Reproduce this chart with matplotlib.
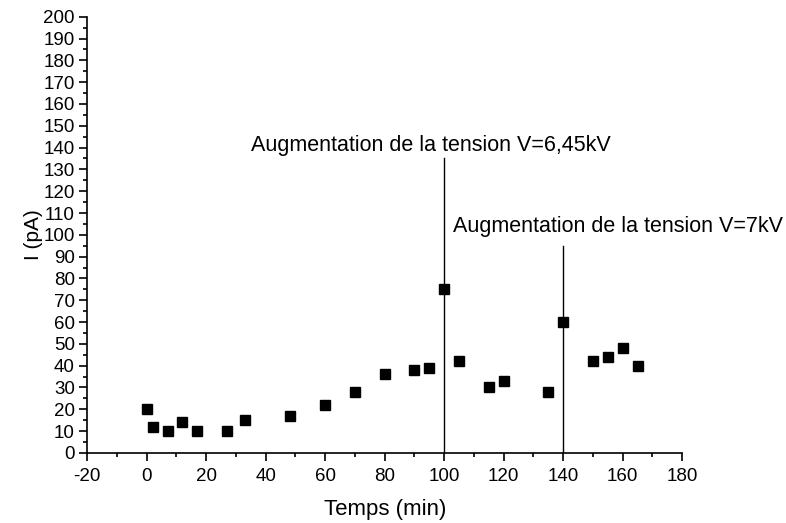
import matplotlib
matplotlib.use("Agg")
import matplotlib.pyplot as plt
from matplotlib.ticker import MultipleLocator

plt.rcParams["font.family"] = ["Liberation Sans", "DejaVu Sans"]
plt.rcParams["axes.unicode_minus"] = False

# Measured current over time
temps = [0, 2, 7, 12, 17, 27, 33, 48, 60, 70, 80, 90, 95, 100, 105, 115, 120, 135, 140, 150, 155, 160, 165]
courant = [20, 12, 10, 14, 10, 10, 15, 17, 22, 28, 36, 38, 39, 75, 42, 30, 33, 28, 60, 42, 44, 48, 40]

# Voltage increase markers
event_x = [100, 140]
event_top = [135, 95]
event_labels = ["Augmentation de la tension V=6,45kV", "Augmentation de la tension V=7kV"]
label_x = [95.5, 158.5]
label_y = [141, 104]

fig = plt.figure(figsize=(7.86, 5.23), dpi=100)
ax = fig.add_axes([0.111, 0.134, 0.757, 0.834])

ax.plot(temps, courant, linestyle="none", marker="s", markersize=7, color="black")

for x, top, text, tx, ty in zip(event_x, event_top, event_labels, label_x, label_y):
    ax.plot([x, x], [0, top], color="black", linewidth=1)
    ax.text(tx, ty, text, ha="center", va="center", fontsize=15.5)

ax.set_xlim(-20, 180)
ax.set_ylim(0, 200)
ax.xaxis.set_major_locator(MultipleLocator(20))
ax.xaxis.set_minor_locator(MultipleLocator(10))
ax.yaxis.set_major_locator(MultipleLocator(10))
ax.yaxis.set_minor_locator(MultipleLocator(5))

for side in ["top", "right"]:
    ax.spines[side].set_visible(False)
for side in ["left", "bottom"]:
    ax.spines[side].set_linewidth(1.2)

ax.tick_params(which="major", direction="out", length=6, width=1.2, labelsize=13.5)
ax.tick_params(axis="x", which="major", pad=5)
ax.tick_params(axis="y", which="major", pad=3)
ax.tick_params(which="minor", direction="out", length=3, width=1.2)

ax.set_xlabel("Temps (min)", fontsize=16, labelpad=10)
ax.set_ylabel("I (pA)", fontsize=15, labelpad=0)

fig.savefig("out.png", dpi=100)
